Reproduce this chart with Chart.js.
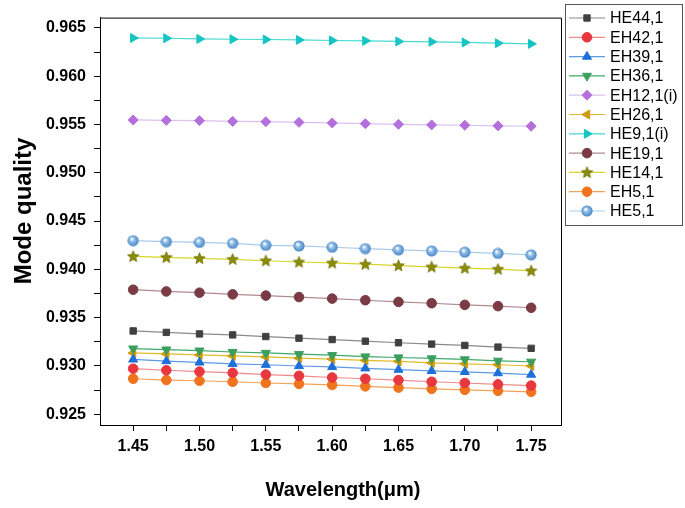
<!DOCTYPE html>
<html>
<head>
<meta charset="utf-8">
<script src="https://cdn.jsdelivr.net/npm/chart.js"></script>
<style>
  html, body { margin: 0; padding: 0; background: #fff; }
</style>
</head>
<body>
<canvas id="myChart" width="685" height="508"></canvas>
<script>
// wavelength in um
var wavelengths = [1.45, 1.475, 1.5, 1.525, 1.55, 1.575, 1.6, 1.625, 1.65, 1.675, 1.7, 1.725, 1.75];

var seriesNames = ["HE44,1", "EH42,1", "EH39,1", "EH36,1", "EH12,1(i)", "EH26,1", "HE9,1(i)", "HE19,1", "HE14,1", "EH5,1", "HE5,1"];

var he44 = [0.93362, 0.93347, 0.93331, 0.93321, 0.93304, 0.93287, 0.93273, 0.93256, 0.93240, 0.93226, 0.93212, 0.93195, 0.93182];
var eh42 = [0.92971, 0.92955, 0.92941, 0.92928, 0.92910, 0.92897, 0.92880, 0.92867, 0.92853, 0.92836, 0.92823, 0.92809, 0.92796];
var eh39 = [0.93067, 0.93050, 0.93036, 0.93022, 0.93012, 0.92999, 0.92989, 0.92975, 0.92961, 0.92948, 0.92938, 0.92925, 0.92910];
var eh36 = [0.93179, 0.93169, 0.93158, 0.93144, 0.93134, 0.93121, 0.93111, 0.93097, 0.93087, 0.93077, 0.93067, 0.93053, 0.93043];
var eh12 = [0.95547, 0.95543, 0.95540, 0.95532, 0.95529, 0.95522, 0.95516, 0.95509, 0.95502, 0.95496, 0.95492, 0.95486, 0.95482];
var eh26 = [0.93134, 0.93124, 0.93114, 0.93104, 0.93093, 0.93080, 0.93070, 0.93057, 0.93047, 0.93032, 0.93022, 0.93012, 0.92999];
var he9  = [0.96396, 0.96393, 0.96386, 0.96383, 0.96380, 0.96376, 0.96370, 0.96366, 0.96360, 0.96356, 0.96350, 0.96342, 0.96335];
var he19 = [0.93789, 0.93771, 0.93758, 0.93741, 0.93728, 0.93713, 0.93697, 0.93680, 0.93663, 0.93649, 0.93632, 0.93619, 0.93602];
var he14 = [0.94134, 0.94124, 0.94114, 0.94104, 0.94089, 0.94076, 0.94066, 0.94053, 0.94039, 0.94025, 0.94012, 0.94002, 0.93985];
var eh5  = [0.92867, 0.92853, 0.92846, 0.92836, 0.92823, 0.92813, 0.92803, 0.92788, 0.92775, 0.92762, 0.92752, 0.92742, 0.92732];
var he5  = [0.94297, 0.94286, 0.94279, 0.94269, 0.94249, 0.94242, 0.94229, 0.94215, 0.94201, 0.94191, 0.94178, 0.94165, 0.94150];

var xTicks = [1.45, 1.475, 1.5, 1.525, 1.55, 1.575, 1.6, 1.625, 1.65, 1.675, 1.7, 1.725, 1.75];
var xTickLabels = ["1.45", "", "1.50", "", "1.55", "", "1.60", "", "1.65", "", "1.70", "", "1.75"];
var yTicks = [0.925, 0.9275, 0.93, 0.9325, 0.935, 0.9375, 0.94, 0.9425, 0.945, 0.9475, 0.95, 0.9525, 0.955, 0.9575, 0.96, 0.9625, 0.965];
var yTickLabels = ["0.925", "", "0.930", "", "0.935", "", "0.940", "", "0.945", "", "0.950", "", "0.955", "", "0.960", "", "0.965"];

var FONT = '"Liberation Sans", Arial, sans-serif';

// filled star marker
function starImage(fill, stroke) {
  var c = document.createElement('canvas');
  c.width = 13; c.height = 13;
  var g = c.getContext('2d');
  g.beginPath();
  for (var i = 0; i < 10; i++) {
    var r = (i % 2 === 0) ? 6 : 2.6;
    var a = -Math.PI / 2 + i * Math.PI / 5;
    g.lineTo(6.5 + r * Math.cos(a), 6.8 + r * Math.sin(a));
  }
  g.closePath();
  g.fillStyle = fill; g.fill();
  g.strokeStyle = stroke; g.lineWidth = 0.8; g.stroke();
  return c;
}

// shaded ball marker
function ballImage() {
  var c = document.createElement('canvas');
  c.width = 12; c.height = 12;
  var g = c.getContext('2d');
  var grd = g.createRadialGradient(4.5, 4.2, 0.5, 6, 6, 6);
  grd.addColorStop(0, '#ffffff');
  grd.addColorStop(0.35, '#8fbde8');
  grd.addColorStop(1, '#3f7fc0');
  g.beginPath(); g.arc(6, 6, 5.6, 0, Math.PI * 2);
  g.fillStyle = grd; g.fill();
  return c;
}

function pts(vals) {
  return wavelengths.map(function (w, i) { return { x: w, y: vals[i] }; });
}

function ds(i, vals, line, marker, style, rot, radius) {
  return {
    label: seriesNames[i],
    data: pts(vals),
    borderColor: line,
    borderWidth: 1.2,
    backgroundColor: marker,
    pointBackgroundColor: marker,
    pointBorderColor: marker,
    pointBorderWidth: 1,
    pointStyle: style,
    pointRotation: rot,
    pointRadius: radius,
    tension: 0
  };
}

var datasets = [
  ds(0, he44, '#8a8a8a', '#404040', 'rect', 0, 4.5),
  ds(1, eh42, '#f08a8a', '#e8373f', 'circle', 0, 4.8),
  ds(2, eh39, '#5c9be4', '#1e6fd9', 'triangle', 0, 5.2),
  ds(3, eh36, '#3fa868', '#3a9e5c', 'triangle', 180, 5.2),
  ds(4, eh12, '#dcc0f0', '#b36fdc', 'rectRot', 0, 5),
  ds(5, eh26, '#e2bb2a', '#cf9a08', 'triangle', -90, 5.2),
  ds(6, he9, '#46dad2', '#16c4c4', 'triangle', 90, 5.2),
  ds(7, he19, '#b08a92', '#7a3b44', 'circle', 0, 4.8),
  ds(8, he14, '#d6d62a', '#8c8c00', starImage('#8c8c00', '#6e6e00'), 0, 6),
  ds(9, eh5, '#f5a15a', '#f0741e', 'circle', 0, 4.8),
  ds(10, he5, '#a9cbea', '#5d9bd6', ballImage(), 0, 6)
];

var framePlugin = {
  id: 'frame',
  afterDraw: function (chart) {
    var ctx = chart.ctx, a = chart.chartArea;
    ctx.save();
    ctx.strokeStyle = '#000';
    ctx.lineWidth = 1;
    ctx.beginPath();
    ctx.moveTo(a.left, a.top + 0.5);
    ctx.lineTo(a.right + 0.5, a.top + 0.5);
    ctx.lineTo(a.right + 0.5, a.bottom);
    ctx.stroke();

    // axis titles
    ctx.fillStyle = '#000';
    ctx.textAlign = 'center';
    ctx.textBaseline = 'middle';
    ctx.font = 'bold 20px ' + FONT;
    ctx.fillText('Wavelength(\u03bcm)', 343, 490);
    ctx.save();
    ctx.translate(24, 211);
    ctx.rotate(-Math.PI / 2);
    ctx.font = 'bold 24px ' + FONT;
    ctx.fillText('Mode quality', 0, 0);
    ctx.restore();

    // legend box
    ctx.strokeStyle = '#555';
    ctx.strokeRect(565.5, 4.5, 117, 221);
    chart.data.datasets.forEach(function (d, i) {
      var y = 18 + i * 19.3;
      ctx.strokeStyle = d.borderColor;
      ctx.lineWidth = 1.2;
      ctx.beginPath();
      ctx.moveTo(569, y); ctx.lineTo(605, y);
      ctx.stroke();
      ctx.fillStyle = d.pointBackgroundColor;
      ctx.strokeStyle = d.pointBorderColor;
      ctx.lineWidth = 1;
      Chart.helpers.drawPoint(ctx, {
        pointStyle: d.pointStyle, rotation: d.pointRotation,
        radius: d.pointRadius, borderWidth: 1
      }, 587, y);
      ctx.fillStyle = '#000';
      ctx.textAlign = 'left';
      ctx.font = '16px ' + FONT;
      ctx.fillText(d.label, 610, y + 1);
    });
    ctx.restore();
  }
};

var ctx = document.getElementById('myChart').getContext('2d');
var myChart = new Chart(ctx, {
  type: 'line',
  data: { datasets: datasets },
  options: {
    responsive: false,
    animation: false,
    layout: { padding: { left: 0, right: 124, top: 10, bottom: 0 } },
    plugins: { legend: { display: false }, tooltip: { enabled: false } },
    scales: {
      x: {
        type: 'linear',
        min: 1.425, max: 1.7725,
        afterBuildTicks: function (s) { s.ticks = xTicks.map(function (v) { return { value: v }; }); },
        afterFit: function (s) { s.height = 83; },
        ticks: {
          autoSkip: false, maxRotation: 0, padding: 6, color: '#000',
          font: { family: FONT, size: 16, weight: 'bold' },
          callback: function (v, i) { return xTickLabels[i]; }
        },
        grid: { drawOnChartArea: false, drawTicks: true, tickLength: 6, color: '#000', tickColor: '#000' },
        border: { display: true, color: '#000', width: 1 }
      },
      y: {
        type: 'linear',
        min: 0.92388, max: 0.96607,
        afterBuildTicks: function (s) { s.ticks = yTicks.map(function (v) { return { value: v }; }); },
        afterFit: function (s) { s.width = 100; },
        ticks: {
          autoSkip: false, padding: 8, color: '#000',
          font: { family: FONT, size: 16, weight: 'bold' },
          callback: function (v, i) { return yTickLabels[i]; }
        },
        grid: { drawOnChartArea: false, drawTicks: true, tickLength: 6, color: '#000', tickColor: '#000' },
        border: { display: true, color: '#000', width: 1 }
      }
    }
  },
  plugins: [framePlugin]
});
</script>
</body>
</html>
